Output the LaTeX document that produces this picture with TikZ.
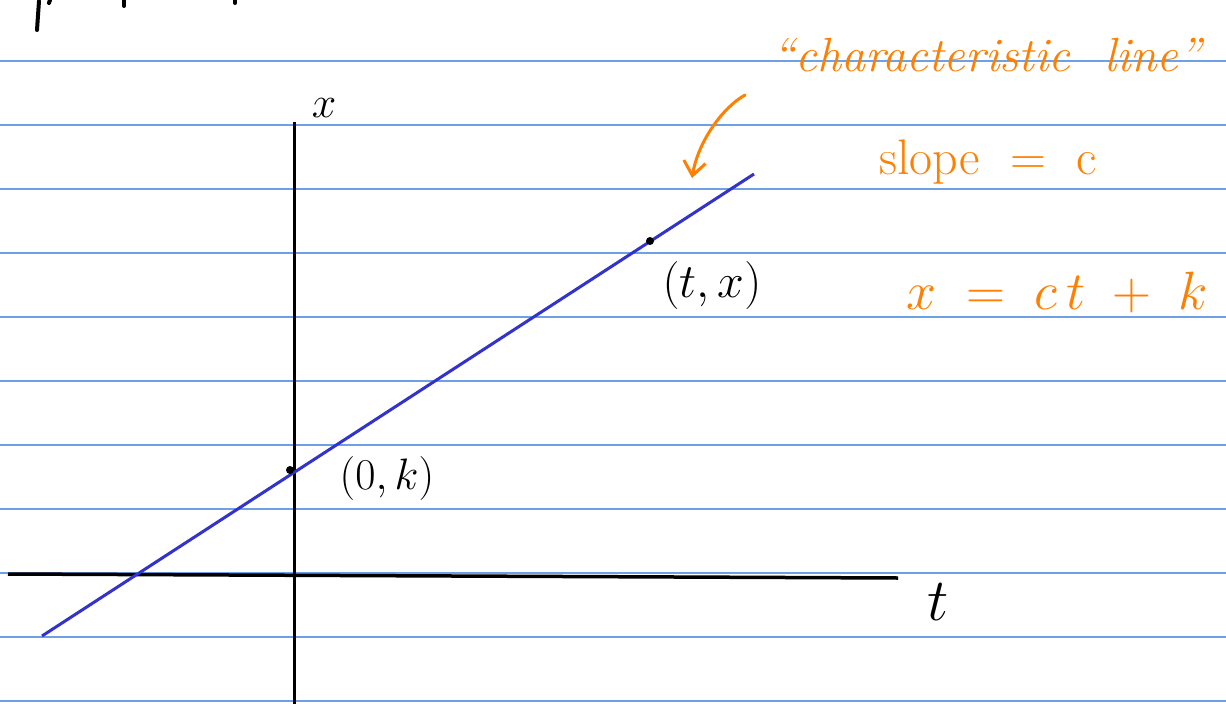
\RequirePackage{fix-cm}
\documentclass[tikz,border=0pt]{standalone}
\usetikzlibrary{arrows.meta}
\definecolor{rule}{RGB}{110,160,230}
\definecolor{ink}{RGB}{0,0,0}
\definecolor{pen}{RGB}{255,128,0}
\definecolor{cline}{RGB}{50,50,205}
\begin{document}
\begin{tikzpicture}[x=1pt,y=-1pt,
  ruleline/.style={draw=rule,line width=1.4pt},
  axis/.style={draw=ink,line width=3.5pt},
  charline/.style={draw=cline,line width=3pt},
  inklabel/.style={text=ink,inner sep=0pt},
  penlabel/.style={text=pen,inner sep=0pt},
  dotmark/.style={fill=ink,circle,inner sep=0pt,minimum size=8pt}]
\useasboundingbox (0,0) rectangle (1226,704);
\fill[white] (0,0) rectangle (1226,704);
% ruled paper
\foreach \yy in {61,125,189,253,317,381,445,509,573,637,701}
  \draw[ruleline] (0,\yy) -- (1226,\yy);
% fragments of writing cut off at the top
\begin{scope}[draw=ink,line width=4pt,line cap=round]
  \draw (39,1) -- (37,30);
  \draw (50,0) -- (49,3);
  \draw (124,0) -- (124,6);
  \draw (235,0) -- (235,3);
\end{scope}
% axes
\coordinate (tl) at (8,574);
\coordinate (tr) at (898,578);
\coordinate (xt) at (294,122);
\coordinate (xb) at (294,704);
\draw[axis] (tl) -- (tr);
\draw[axis,line width=3pt] (xt) -- (xb);
\node[inklabel,font=\fontsize{44}{44}\selectfont] (xlab) at (324,108) {$x$};
\node[inklabel,font=\fontsize{60}{60}\selectfont] (tlab) at (938,602) {$t$};
% characteristic line
\coordinate (c0) at (42,636);
\coordinate (c1) at (754,174);
\draw[charline] (c0) -- (c1);
\node[dotmark] (p0) at (290,470) {};
\node[dotmark] (p1) at (650,241) {};
\node[inklabel,font=\fontsize{44}{44}\selectfont] (l0) at (387,478) {$(0,k)$};
\node[inklabel,font=\fontsize{48}{48}\selectfont] (l1) at (712,285) {$(t,x)$};
% orange annotations
\node[penlabel,font=\fontsize{48}{48}\selectfont\itshape] (cl) at (987,55) {``characteristic\ \ line''};
\node[penlabel,font=\fontsize{50}{50}\selectfont] (sl) at (988,162) {slope\ \ =\ \ c};
\node[penlabel,font=\fontsize{54}{54}\selectfont] (eq) at (1057,292) {$x\;=\;c\,t\;+\;k$};
\coordinate (a0) at (745,95);
\coordinate (a1) at (692,178);
\draw[pen,line width=3pt,line cap=round,-{Straight Barb[length=14pt,width=22pt]}] (a0) .. controls (722,108) and (698,142) .. (a1);
\end{tikzpicture}
\end{document}
